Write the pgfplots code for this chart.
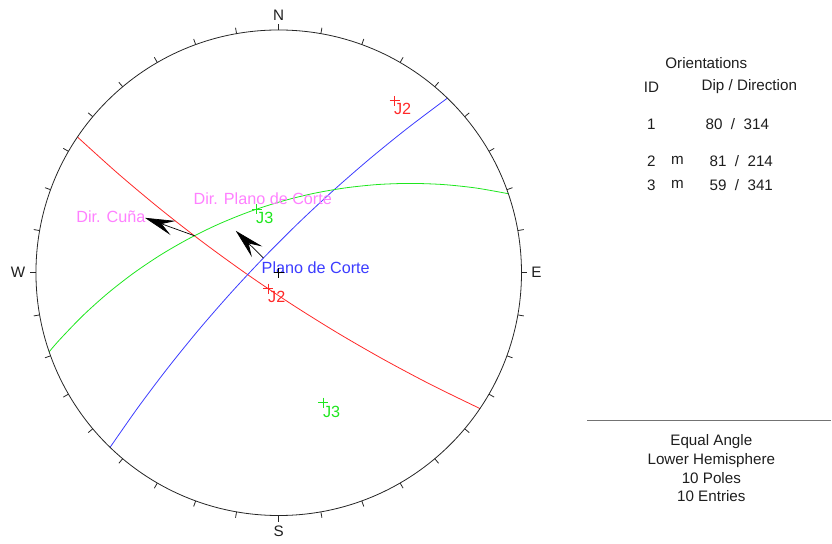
\documentclass[border=0pt]{standalone}
\usepackage{pgfplots}
\pgfplotsset{compat=1.18}
\usetikzlibrary{arrows.meta}
\usepackage{fontspec}
\setmainfont{Liberation Sans}
\definecolor{cred}{RGB}{255,40,40}
\definecolor{cblue}{RGB}{60,60,255}
\definecolor{cgreen}{RGB}{30,230,30}
\definecolor{cpink}{RGB}{255,128,255}
\definecolor{ctext}{RGB}{30,30,30}
\begin{document}
\begin{tikzpicture}[font=\fontsize{15.2}{18}\selectfont]
\begin{axis}[width=832pt,height=544pt,scale only axis,hide axis,
  xmin=-1.1481,xmax=2.2757,ymin=-1.1152,ymax=1.1235,clip=false]
\path (rel axis cs:0,0) rectangle (rel axis cs:1,1);
% J2 great circle 81/214 (red)
\addplot[cred, line width=0.8pt, smooth] coordinates {
(-0.8290,0.5590) (-0.6632,0.4096) (-0.4922,0.2661) (-0.3164,0.1288) (-0.1359,-0.0023)
(0.0491,-0.1271) (0.2383,-0.2454) (0.4316,-0.3569) (0.6286,-0.4617) (0.8291,-0.5595)};
% Set 1 great circle 80/314 (blue)
\addplot[cblue, line width=0.8pt, smooth] coordinates {
(0.6945,0.7192) (0.5340,0.5982) (0.3777,0.4717) (0.2260,0.3398) (0.0790,0.2027)
(-0.0631,0.0606) (-0.2002,-0.0864) (-0.3321,-0.2381) (-0.4586,-0.3944) (-0.5796,-0.5549) (-0.6949,-0.7195)};
% J3 great circle 59/341 (green)
\addplot[cgreen, line width=0.8pt, smooth] coordinates {
(0.9455,0.3256) (0.8120,0.3491) (0.6772,0.3633) (0.5418,0.3680) (0.4064,0.3633)
(0.2716,0.3491) (0.1381,0.3256) (0.0066,0.2928) (-0.1223,0.2509) (-0.2479,0.2001)
(-0.3697,0.1407) (-0.4871,0.0730) (-0.5995,-0.0028) (-0.7062,-0.0862) (-0.8070,-0.1769)
(-0.9011,-0.2744) (-0.9456,-0.3256)};
% poles and dip vectors
\addplot[cred, only marks, mark=+, mark size=5pt, line width=0.8pt] coordinates {(0.4776,0.7081) (-0.0440,-0.0652)};
\addplot[cgreen, only marks, mark=+, mark size=5pt, line width=0.8pt] coordinates {(0.1842,-0.5350) (-0.0903,0.2622)};
\addplot[black, only marks, mark=+, mark size=5pt, line width=0.8pt] coordinates {(0,0)};
% arrows
\addplot[black, line width=0.7pt, -{Stealth[length=30pt,width=15pt,inset=12pt]}] coordinates {(-0.3463,0.1521) (-0.5514,0.2263)};
\addplot[black, line width=0.7pt, -{Stealth[length=30pt,width=15pt,inset=12pt]}] coordinates {(-0.0629,0.0608) (-0.1770,0.1728)};
% labels in the net
\begin{scope}[font=\fontsize{16.2}{19}\selectfont]
\node[cpink] at (axis cs:-0.6914,0.2305) {Dir. Cuña};
\node[cpink] at (axis cs:-0.0658,0.3045) {Dir. Plano de Corte};
\node[cgreen] at (axis cs:-0.0576,0.2263) {J3};
\node[cblue] at (axis cs:0.1523,0.0206) {Plano de Corte};
\node[cred] at (axis cs:-0.0082,-0.0988) {J2};
\node[cred] at (axis cs:0.5103,0.6749) {J2};
\node[cgreen] at (axis cs:0.2181,-0.5720) {J3};
\end{scope}
% cardinal labels
\node[ctext] at (axis cs:0,1.0617) {N};
\node[ctext] at (axis cs:0,-1.0658) {S};
\node[ctext] at (axis cs:-1.0741,0) {W};
\node[ctext] at (axis cs:1.0617,0) {E};
% right panel
\node[ctext] at (axis cs:1.7613,0.8642) {Orientations};
\node[ctext] at (axis cs:1.5350,0.7654) {ID};
\node[ctext] at (axis cs:1.9383,0.7654) {Dip / Direction};
\node[ctext] at (axis cs:1.5350,0.6132) {1};
\node[ctext] at (axis cs:1.8889,0.6132) {80\ \ /\ \ 314};
\node[ctext] at (axis cs:1.5350,0.4609) {2};
\node[ctext] at (axis cs:1.6420,0.4609) {m};
\node[ctext] at (axis cs:1.9053,0.4609) {81\ \ /\ \ 214};
\node[ctext] at (axis cs:1.5350,0.3621) {3};
\node[ctext] at (axis cs:1.6420,0.3621) {m};
\node[ctext] at (axis cs:1.9053,0.3621) {59\ \ /\ \ 341};
\addplot[black!55, line width=1.6pt] coordinates {(1.2716,-0.6091) (2.2757,-0.6091)};
\node[ctext] at (axis cs:1.7819,-0.6955) {Equal Angle};
\node[ctext] at (axis cs:1.7819,-0.7737) {Lower Hemisphere};
\node[ctext] at (axis cs:1.7819,-0.8477) {10 Poles};
\node[ctext] at (axis cs:1.7819,-0.9218) {10 Entries};
\coordinate (O) at (axis cs:0,0);
\end{axis}
\draw[black!85, line width=0.8pt] (O) circle (243pt);
\foreach \a in {0,10,...,350} \draw[black!85,line width=0.8pt] (O) ++(\a:243pt) -- ++(\a:6pt);
\end{tikzpicture}
\end{document}
